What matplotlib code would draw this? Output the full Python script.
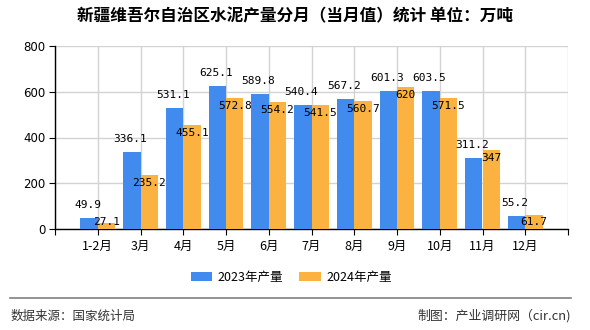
import matplotlib
matplotlib.use("Agg")
import matplotlib.pyplot as plt
from matplotlib.patches import Patch
from matplotlib.lines import Line2D

plt.rcParams['font.family'] = ['Noto Sans CJK SC', 'DejaVu Sans']

categories = ["1-2月", "3月", "4月", "5月", "6月", "7月", "8月", "9月", "10月", "11月", "12月"]
values_2023 = [49.9, 336.1, 531.1, 625.1, 589.8, 540.4, 567.2, 601.3, 603.5, 311.2, 55.2]
values_2024 = [27.1, 235.2, 455.1, 572.8, 554.2, 541.5, 560.7, 620, 571.5, 347, 61.7]
labels_2023 = ["49.9", "336.1", "531.1", "625.1", "589.8", "540.4", "567.2", "601.3", "603.5", "311.2", "55.2"]
labels_2024 = ["27.1", "235.2", "455.1", "572.8", "554.2", "541.5", "560.7", "620", "571.5", "347", "61.7"]
series_names = ["2023年产量", "2024年产量"]
title = "新疆维吾尔自治区水泥产量分月（当月值）统计 单位：万吨"
source = "数据来源：国家统计局"
maker = "制图：产业调研网（cir.cn)"

c_blue = "#418AEE"
c_orange = "#FBB240"

W, H = 590, 330
fig = plt.figure(figsize=(W / 100, H / 100), dpi=100)
ax = fig.add_axes([55 / W, 1 - 229 / H, (568 - 55) / W, (229 - 46) / H])

xs = list(range(1, len(categories) + 1))
bw = 0.405
ax.bar([x - bw / 2 for x in xs], values_2023, width=bw, color=c_blue, zorder=3)
ax.bar([x + bw / 2 for x in xs], values_2024, width=bw, color=c_orange, zorder=3)

ax.set_xlim(0, 12)
ax.set_ylim(0, 800)
ax.set_xticks(range(0, 13))
ax.set_xticklabels([""] + categories + [""], fontsize=9)
ax.set_yticks([0, 200, 400, 600, 800])
ax.set_yticklabels(["0", "200", "400", "600", "800"], fontsize=8.5, family="DejaVu Sans")
ax.grid(True, color="#d3d3d3", linewidth=1, zorder=0)
for s in ["top", "right"]:
    ax.spines[s].set_visible(False)
for s in ["left", "bottom"]:
    ax.spines[s].set_color("black")
    ax.spines[s].set_linewidth(1)
ax.tick_params(axis="both", direction="out", length=4, color="black", pad=3)
ax.tick_params(axis="x", pad=4)

for x, v, lab in zip(xs, values_2023, labels_2023):
    ax.annotate(lab, (x - bw / 2, v), xytext=(-1.5, 13), textcoords="offset pixels",
                ha="center", va="center", fontsize=8, family="DejaVu Sans Mono",
                color="black", zorder=5)
for x, v, lab in zip(xs, values_2024, labels_2024):
    yv = max(v - 35, 30)
    ax.annotate(lab, (x + bw / 2, yv), xytext=(0, 0), textcoords="offset pixels",
                ha="center", va="center", fontsize=8, family="DejaVu Sans Mono",
                color="black", zorder=5)

fig.text(0.5, 1 - 16 / H, title, ha="center", va="center", fontsize=12, weight="bold")

handles = [Patch(facecolor=c_blue), Patch(facecolor=c_orange)]
fig.legend(handles, series_names, loc="center", bbox_to_anchor=(291 / W, 1 - 277 / H),
           ncol=2, frameon=False, fontsize=9, handlelength=1.75, handleheight=0.7,
           handletextpad=0.4, columnspacing=1.3)

fig.add_artist(Line2D([10 / W, 571 / W], [1 - 298 / H, 1 - 298 / H], color="#808080", linewidth=1.2))
fig.text(11 / W, 1 - 316 / H, source, ha="left", va="center", fontsize=9, color="#333333")
fig.text(571 / W, 1 - 316 / H, maker, ha="right", va="center", fontsize=9.3, color="#333333")

fig.savefig("out.png", dpi=100, facecolor="white")
